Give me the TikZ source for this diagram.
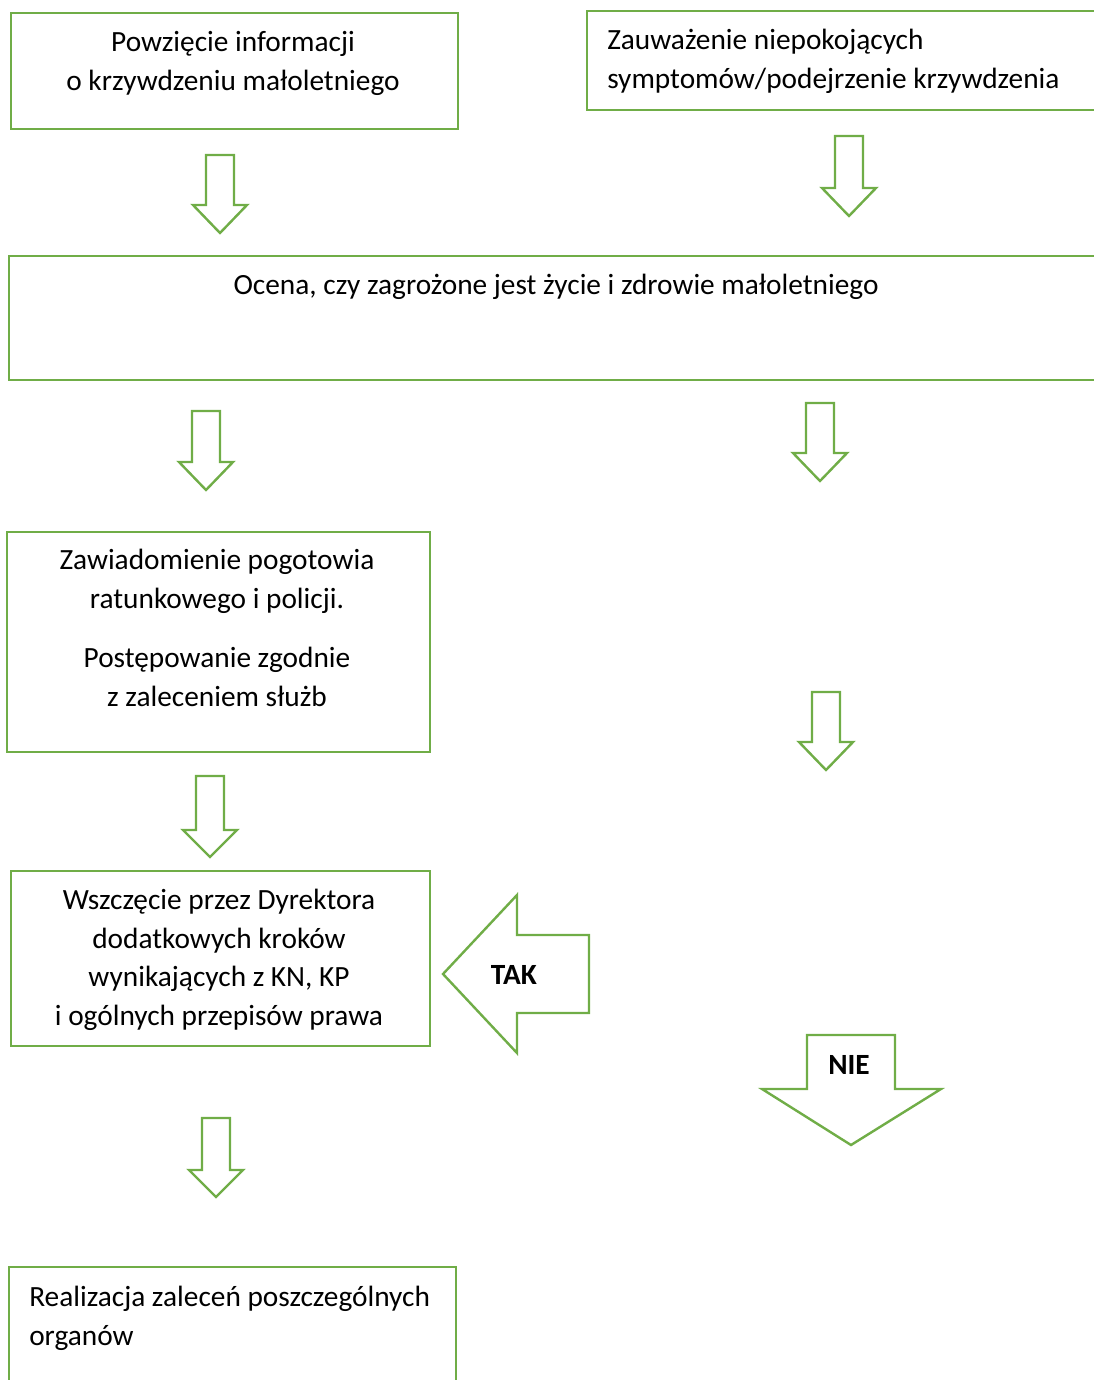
\documentclass[tikz,border=0pt]{standalone}
\usepackage{fontspec}
\setmainfont{Carlito}
\usetikzlibrary{positioning}
\definecolor{zielony}{HTML}{70AD47}
\tikzset{
    % frame of a step
    ramka/.style={
           draw=zielony,
           line width=1.8pt,
           rectangle,
           inner sep=0pt,
           anchor=north west},
    % text of a step
    opis/.style={
           inner sep=0pt,
           font=\fontsize{22}{29}\selectfont},
    % hollow block arrow
    blok/.style={
           draw=zielony,
           line width=1.8pt,
           line join=miter,
           fill=white}
}
\newcommand{\px}{0.75pt}
% down block arrow: centre x, top y, head y, tip y
\newcommand{\wdol}[4]{%
  \draw[blok] (#1-14,#2) -- (#1+14,#2) -- (#1+14,#3) -- (#1+27,#3)
    -- (#1,#4) -- (#1-27,#3) -- (#1-14,#3) -- cycle;}

\begin{document}
\begin{tikzpicture}[x=\px, y=-\px]
\useasboundingbox (0,0) rectangle (1094,1380);
\clip (0,0) rectangle (1094,1380);

% boxes
\node[ramka, minimum width=447*\px, minimum height=116*\px] (info) at (10,12) {};
\node[ramka, minimum width=530*\px, minimum height=99*\px]  (objaw) at (586,10) {};
\node[ramka, minimum width=1110*\px, minimum height=124*\px] (ocena) at (8,255) {};
\node[ramka, minimum width=423*\px, minimum height=220*\px] (zawiad) at (6,531) {};
\node[ramka, minimum width=419*\px, minimum height=175*\px] (dyrektor) at (10,870) {};
\node[ramka, minimum width=447*\px, minimum height=140*\px] (realiz) at (8,1266) {};

% texts
\node[opis, align=center, anchor=north] (info-t) at (233,31)
  {Powzięcie informacji\\o krzywdzeniu małoletniego};
\node[opis, align=left, anchor=north west] (objaw-t) at (607,29)
  {Zauważenie niepokojących\\symptomów/podejrzenie krzywdzenia};
\node[opis, anchor=north] (ocena-t) at (556,274)
  {Ocena, czy zagrożone jest życie i zdrowie małoletniego};
\node[opis, align=center, anchor=north] (zawiad-t) at (217,549)
  {Zawiadomienie pogotowia\\ratunkowego i policji.\\[15.75pt]Postępowanie zgodnie\\z zaleceniem służb};
\node[opis, align=center, anchor=north] (dyrektor-t) at (219,889)
  {Wszczęcie przez Dyrektora\\dodatkowych kroków\\wynikających z KN, KP\\i ogólnych przepisów prawa};
\node[opis, align=left, anchor=north west] (realiz-t) at (29,1286)
  {Realizacja zaleceń poszczególnych\\organów};

% down arrows
\wdol{220}{155}{205}{233}
\wdol{849}{136}{188}{216}
\wdol{206}{411}{462}{490}
\wdol{820}{403}{453}{481}
\wdol{210}{776}{830}{857}
\wdol{826}{692}{742}{770}
\wdol{216}{1118}{1170}{1197}

% yes / no arrows
\draw[blok] (443,974) -- (517,895) -- (517,935) -- (589,935) -- (589,1013)
  -- (517,1013) -- (517,1053) -- cycle;
\draw[blok] (807,1035) -- (895,1035) -- (895,1089) -- (941,1089) -- (851,1145)
  -- (762,1089) -- (807,1089) -- cycle;
\node[opis, font=\fontsize{22}{29}\selectfont\bfseries] (tak) at (514,975) {TAK};
\node[opis, font=\fontsize{22}{29}\selectfont\bfseries] (nie) at (849,1065) {NIE};

\end{tikzpicture}
\end{document}
